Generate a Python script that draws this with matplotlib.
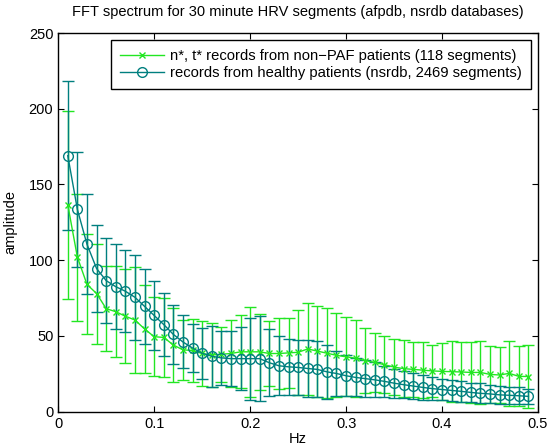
import numpy as np
import matplotlib.pyplot as plt
from matplotlib.lines import Line2D

plt.rcParams['font.family'] = ['Liberation Sans', 'DejaVu Sans']

# frequency bins (Hz)
freq = [0.01, 0.02, 0.03, 0.04, 0.05, 0.06, 0.07, 0.08, 0.09, 0.10,
        0.11, 0.12, 0.13, 0.14, 0.15, 0.16, 0.17, 0.18, 0.19, 0.20,
        0.21, 0.22, 0.23, 0.24, 0.25, 0.26, 0.27, 0.28, 0.29, 0.30,
        0.31, 0.32, 0.33, 0.34, 0.35, 0.36, 0.37, 0.38, 0.39, 0.40,
        0.41, 0.42, 0.43, 0.44, 0.45, 0.46, 0.47, 0.48, 0.49]

# non-PAF patients (afpdb n*, t*)
paf_mean = [136.5, 102, 84, 78, 68, 66, 63, 60.5, 54.6, 49.5,
            49, 44, 40.8, 40.4, 38.4, 37.4, 37.9, 38.4, 39.5, 39.5,
            39.5, 38.4, 38.4, 38.8, 39.2, 41.4, 40, 38.6, 37.2, 36.2,
            35.3, 33.7, 32.5, 31, 29.4, 28.4, 27.9, 27.4, 26.9, 26.6,
            26.4, 26.2, 25.9, 25.9, 24.6, 24.2, 25.3, 23.3, 23.2]
paf_err = [62, 42, 33, 33, 28, 30, 31, 35, 29, 26,
           26, 24.5, 20, 20.5, 21.5, 21, 18, 22.4, 24, 29.5,
           25, 21.5, 23.7, 23.3, 28, 30.3, 30, 29.6, 27.8, 26,
           25.5, 21.5, 19.3, 18.7, 18.4, 18.8, 18, 18.4, 17.4, 18.8,
           20.2, 19.7, 20, 20.6, 18.8, 18.7, 21.3, 19.8, 20.6]

# healthy patients (nsrdb)
nsr_mean = [169, 133.5, 110.5, 94.5, 86.5, 82.5, 79.5, 75.5, 69.5, 63.5,
            57.5, 51, 46, 42, 38.5, 36.6, 35.5, 35, 35, 35,
            35, 32.3, 30.3, 29.6, 29.2, 28.5, 27.9, 26.3, 25.2, 23.7,
            22.6, 21.8, 21, 20, 18.8, 17.8, 16.9, 16, 15.2, 14.6,
            14, 13.4, 12.7, 12.1, 11.7, 11.1, 10.8, 10.5, 10.1]
nsr_err = [49, 38, 33, 29, 28, 28, 27, 28, 25, 23,
           21, 19.5, 17.5, 16, 17, 20, 18, 18, 21, 27,
           28, 22, 19.5, 18.5, 18, 19, 18.5, 18, 15, 13.5,
           12.5, 12, 11.5, 10, 9.5, 9, 8.5, 8, 7.5, 7,
           7, 7, 6.5, 6.5, 6, 6, 5.5, 5.5, 5]

labels = ['n*, t* records from non\u2212PAF patients (118 segments)',
          'records from healthy patients (nsrdb, 2469 segments)']

green = '#22e622'
teal = '#007f7f'

fig = plt.figure(figsize=(5.49, 4.46), dpi=100)
ax = fig.add_axes([0.106, 0.077, 0.874, 0.849])

ax.errorbar(freq, paf_mean, yerr=paf_err, color=green, marker='x',
            markersize=5, linewidth=1, elinewidth=1, capsize=4.5)
ax.errorbar(freq, nsr_mean, yerr=nsr_err, color=teal, marker='o',
            markerfacecolor='none', markersize=7, linewidth=1,
            elinewidth=1, capsize=4.5)

ax.set_xlim(0, 0.5)
ax.set_ylim(0, 250)
ax.set_xticks([0, 0.1, 0.2, 0.3, 0.4, 0.5])
ax.set_xticklabels(['0', '0.1', '0.2', '0.3', '0.4', '0.5'])
ax.set_yticks([0, 50, 100, 150, 200, 250])
ax.tick_params(direction='in', top=True, right=True, labelsize=10.5, length=4)
for s in ax.spines.values():
    s.set_linewidth(1)

ax.set_title('FFT spectrum for 30 minute HRV segments (afpdb, nsrdb databases)',
             fontsize=10.5, pad=12)
ax.set_xlabel('Hz', fontsize=10.5, labelpad=1)
ax.set_ylabel('amplitude', fontsize=10.5, labelpad=8)

handles = [Line2D([], [], color=green, marker='x', markersize=5, linewidth=1),
           Line2D([], [], color=teal, marker='o', markerfacecolor='none',
                  markersize=7, linewidth=1)]
leg = ax.legend(handles, labels, loc='upper right', fontsize=10.6,
                fancybox=False, edgecolor='black', framealpha=1,
                borderpad=0.6, handlelength=3.0, handletextpad=0.4,
                labelspacing=0.2, borderaxespad=0.5)
leg.get_frame().set_linewidth(1)

fig.savefig('out.png', dpi=100)
